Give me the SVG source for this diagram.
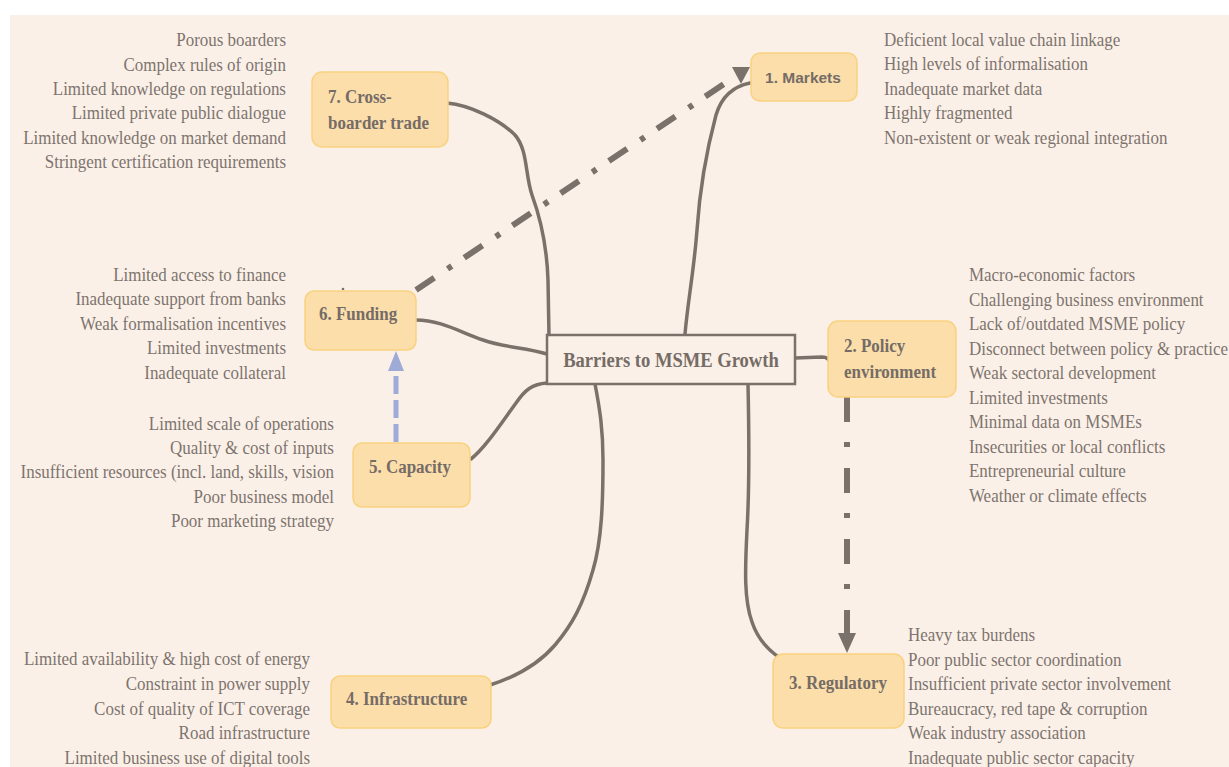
<svg xmlns="http://www.w3.org/2000/svg" width="1229" height="767" viewBox="0 0 1229 767">
<style>
.lst{font-family:"Liberation Serif","Times New Roman",serif;font-size:19.3px;fill:#7d746e}
.lbl{font-family:"Liberation Serif","Times New Roman",serif;font-size:19.3px;font-weight:bold;fill:#756c66}
.box{fill:#fcdeab;stroke:#f9d27f;stroke-width:1.5}
.con{fill:none;stroke:#7a716a;stroke-width:3.5;stroke-linecap:round}
.dd{fill:none;stroke:#7a716a;stroke-width:6}
.head{fill:#7a716a}
</style>
<rect x="0" y="0" width="1229" height="767" fill="#ffffff"/>
<rect x="10" y="15" width="1219" height="752" fill="#fbf0e8"/>

<g id="connectors">
<path class="con" d="M447,103 C470,105 500,120 515,135 C528,150 525,175 532,195 C543,225 547,250 548,280 L549,337"/>
<path class="con" d="M750,83 C735,86 722,95 716,115 C708,145 700,185 697,230 C694,270 688,300 685,334"/>
<path class="con" d="M416,320 C440,320 460,332 483,340 C505,348 525,347 547,354"/>
<path class="con" d="M471,459 C485,448 500,425 516,403 C525,390 532,384 547,383"/>
<path class="con" d="M595,384 C600,410 603,430 603,460 C603,500 602,540 593,570 C583,605 572,625 555,645 C538,665 515,677 490,685"/>
<path class="con" d="M748,384 C749,430 750,480 747,530 C745,570 744,600 752,622 C758,640 768,650 780,658"/>
<path class="con" d="M795,358 L822,357 Q829,357 831,364"/>
<path class="dd" d="M416,290 L733,78" stroke-dasharray="22 16 5 15"/>
<polygon class="head" points="732,67 750,67 741,84"/>
<path class="dd" d="M847,397 L847,634" stroke-dasharray="25 20 5 21"/>
<polygon class="head" points="838,633 856,633 847,653"/>
<path d="M396,442 L396,371" fill="none" stroke="#9eabd6" stroke-width="5" stroke-dasharray="18 6"/>
<polygon points="388,371 404,371 396,351" fill="#9eabd6"/>
<circle cx="343" cy="289" r="1.3" fill="#7a716a"/>
</g>

<g id="center">
<rect x="547" y="335" width="248" height="49" fill="#fbf0e8" stroke="#7a716a" stroke-width="2.5"/>
<text class="lbl" style="font-size:21.1px" transform="scale(0.88 1)" x="762.5" y="367" text-anchor="middle">Barriers to MSME Growth</text>
</g>

<g id="n1">
<rect class="box" x="751" y="53" width="106" height="48" rx="9"/>
<text x="803" y="83" text-anchor="middle" style="font-family:'Liberation Sans',Arial,sans-serif;font-size:15.5px;font-weight:bold;fill:#756c66">1. Markets</text>
<g class="lst" transform="scale(0.88 1)">
<text x="1004.5" y="46">Deficient local value chain linkage</text>
<text x="1004.5" y="70">High levels of informalisation</text>
<text x="1004.5" y="95">Inadequate market data</text>
<text x="1004.5" y="119">Highly fragmented</text>
<text x="1004.5" y="144">Non-existent or weak regional integration</text>
</g>
</g>

<g id="n2">
<rect class="box" x="828" y="321" width="128" height="76" rx="10"/>
<g class="lbl" transform="scale(0.88 1)">
<text x="959.1" y="352">2. Policy</text>
<text x="959.1" y="378">environment</text>
</g>
<g class="lst" transform="scale(0.88 1)">
<text x="1101.1" y="281">Macro-economic factors</text>
<text x="1101.1" y="306">Challenging business environment</text>
<text x="1101.1" y="330">Lack of/outdated MSME policy</text>
<text x="1101.1" y="355">Disconnect between policy &amp; practice</text>
<text x="1101.1" y="379">Weak sectoral development</text>
<text x="1101.1" y="404">Limited investments</text>
<text x="1101.1" y="428">Minimal data on MSMEs</text>
<text x="1101.1" y="453">Insecurities or local conflicts</text>
<text x="1101.1" y="477">Entrepreneurial culture</text>
<text x="1101.1" y="502">Weather or climate effects</text>
</g>
</g>

<g id="n3">
<rect class="box" x="773" y="654" width="131" height="74" rx="10"/>
<text class="lbl" transform="scale(0.88 1)" x="896.6" y="689">3. Regulatory</text>
<g class="lst" transform="scale(0.88 1)">
<text x="1031.8" y="641">Heavy tax burdens</text>
<text x="1031.8" y="666">Poor public sector coordination</text>
<text x="1031.8" y="690">Insufficient private sector involvement</text>
<text x="1031.8" y="715">Bureaucracy, red tape &amp; corruption</text>
<text x="1031.8" y="739">Weak industry association</text>
<text x="1031.8" y="764">Inadequate public sector capacity</text>
</g>
</g>

<g id="n4">
<rect class="box" x="331" y="676" width="160" height="52" rx="9"/>
<text class="lbl" transform="scale(0.88 1)" x="393.2" y="705">4. Infrastructure</text>
<g class="lst" transform="scale(0.88 1)" text-anchor="end">
<text x="352.3" y="665">Limited availability &amp; high cost of energy</text>
<text x="352.3" y="690">Constraint in power supply</text>
<text x="352.3" y="715">Cost of quality of ICT coverage</text>
<text x="352.3" y="739">Road infrastructure</text>
<text x="352.3" y="764">Limited business use of digital tools</text>
</g>
</g>

<g id="n5">
<rect class="box" x="353" y="443" width="117" height="64" rx="9"/>
<text class="lbl" transform="scale(0.88 1)" x="419.3" y="473">5. Capacity</text>
<g class="lst" transform="scale(0.88 1)" text-anchor="end">
<text x="379.5" y="430">Limited scale of operations</text>
<text x="379.5" y="454">Quality &amp; cost of inputs</text>
<text x="379.5" y="478">Insufficient resources (incl. land, skills, vision</text>
<text x="379.5" y="503">Poor business model</text>
<text x="379.5" y="527">Poor marketing strategy</text>
</g>
</g>

<g id="n6">
<rect class="box" x="305" y="291" width="111" height="59" rx="9"/>
<text class="lbl" transform="scale(0.88 1)" x="362.5" y="320">6. Funding</text>
<g class="lst" transform="scale(0.88 1)" text-anchor="end">
<text x="325" y="281">Limited access to finance</text>
<text x="325" y="305">Inadequate support from banks</text>
<text x="325" y="330">Weak formalisation incentives</text>
<text x="325" y="354">Limited investments</text>
<text x="325" y="379">Inadequate collateral</text>
</g>
</g>

<g id="n7">
<rect class="box" x="312" y="72" width="136" height="75" rx="10"/>
<g class="lbl" transform="scale(0.88 1)">
<text x="372.7" y="103">7. Cross-</text>
<text x="372.7" y="129">boarder trade</text>
</g>
<g class="lst" transform="scale(0.88 1)" text-anchor="end">
<text x="325" y="46">Porous boarders</text>
<text x="325" y="71">Complex rules of origin</text>
<text x="325" y="95">Limited knowledge on regulations</text>
<text x="325" y="119">Limited private public dialogue</text>
<text x="325" y="144">Limited knowledge on market demand</text>
<text x="325" y="168">Stringent certification requirements</text>
</g>
</g>
</svg>
